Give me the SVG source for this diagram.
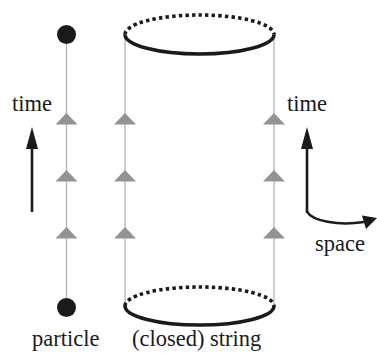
<svg xmlns="http://www.w3.org/2000/svg" width="377" height="356" viewBox="0 0 377 356">
<style>
.wl{stroke:#b3b3b3;stroke-width:1.3;fill:none}
.tri{fill:#939393}
.sol{stroke:#1a1a1a;stroke-width:3.6;fill:none}
.dot{stroke:#1a1a1a;stroke-width:3.6;fill:none;stroke-dasharray:3.4 3.2}
.arr{stroke:#1a1a1a;stroke-width:2.6;fill:none}
.ah{fill:#1a1a1a}
text{font-family:'Liberation Serif','DejaVu Serif',serif;font-size:22.5px;fill:#1a1a1a}
</style>
<defs>
<polygon id="t" class="tri" points="0,-6 11,5.5 -11,5.5"/>
</defs>
<g id="connectors">
<line class="wl" x1="66.5" y1="34.5" x2="66.5" y2="307.5"/>
<line class="wl" x1="125" y1="34.5" x2="125" y2="306"/>
<line class="wl" x1="274" y1="34.5" x2="274" y2="306"/>
<g id="triangles">
<use href="#t" x="66.5" y="119"/><use href="#t" x="66.5" y="176"/><use href="#t" x="66.5" y="233"/>
<use href="#t" x="125" y="119"/><use href="#t" x="125" y="176"/><use href="#t" x="125" y="233"/>
<use href="#t" x="274" y="119"/><use href="#t" x="274" y="176"/><use href="#t" x="274" y="233"/>
</g>
</g>
<g id="particle">
<circle cx="66.5" cy="34.5" r="9.5" fill="#1a1a1a"/>
<circle cx="66.5" cy="307.5" r="9.5" fill="#1a1a1a"/>
<text x="32" y="346" font-family="Liberation Serif, serif">particle</text>
</g>
<g id="string">
<path class="dot" d="M125,34.5 A74.5,19.5 0 0 1 274,34.5"/>
<path class="sol" d="M125,34.5 A74.5,19.5 0 0 0 274,34.5"/>
<path class="dot" d="M125,306 A74.5,19 0 0 1 274,306"/>
<path class="sol" d="M125,306 A74.5,19 0 0 0 274,306"/>
<text x="132" y="346" font-family="Liberation Serif, serif">(closed) string</text>
</g>
<g id="time-left">
<text x="12" y="111" font-family="Liberation Serif, serif">time</text>
<line class="arr" x1="32" y1="212" x2="32" y2="145"/>
<polygon class="ah" points="32,127 38,149 26,149"/>
</g>
<g id="time-space-axes">
<text x="287" y="111" font-family="Liberation Serif, serif">time</text>
<line class="arr" x1="307" y1="213" x2="307" y2="145"/>
<polygon class="ah" points="307,127 313,149 301,149"/>
<path class="arr" d="M307,211.5 C312,221 338,226 364,222"/>
<polygon class="ah" points="377,218 362,215.5 366,229"/>
<text x="315" y="251" font-family="Liberation Serif, serif">space</text>
</g>
</svg>
